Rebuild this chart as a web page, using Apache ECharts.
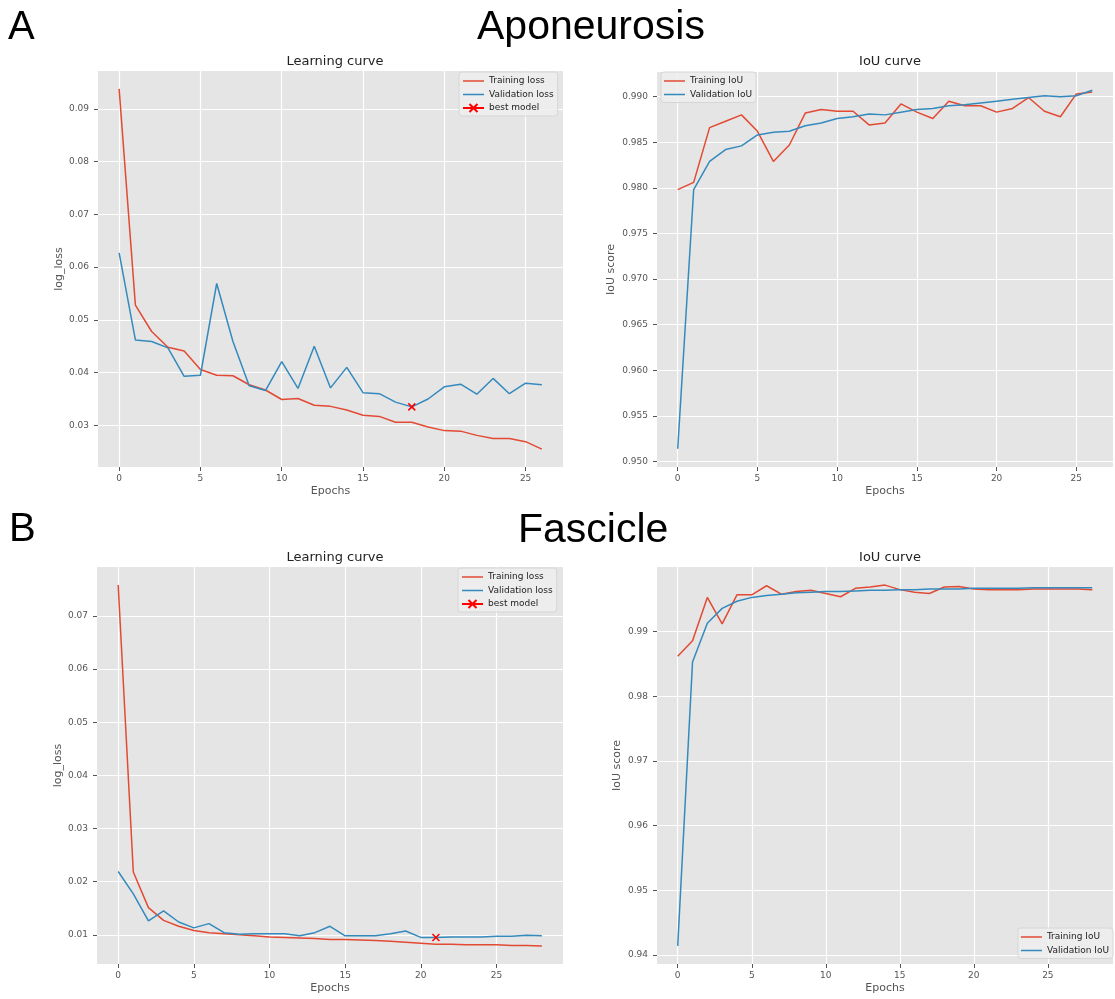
<!DOCTYPE html>
<html><head><meta charset="utf-8">
<script src="https://cdn.jsdelivr.net/npm/echarts@6/dist/echarts.min.js"></script>
<style>html,body{margin:0;padding:0;background:#fff}#c{width:1115px;height:999px}</style>
</head><body><div id="c"></div>
<script>
// ---- data ----
const epochsA = [0,1,2,3,4,5,6,7,8,9,10,11,12,13,14,15,16,17,18,19,20,21,22,23,24,25,26];
const epochsB = [0,1,2,3,4,5,6,7,8,9,10,11,12,13,14,15,16,17,18,19,20,21,22,23,24,25,26,27,28];

const aTrainLoss = [0.0938,0.0528,0.0478,0.0448,0.0441,0.0406,0.0395,0.0394,0.0377,0.0367,0.0349,0.0351,0.0338,0.0336,0.0329,0.0319,0.0317,0.0306,0.0306,0.0297,0.0290,0.0289,0.0281,0.0275,0.0275,0.0269,0.0255];
const aValLoss   = [0.0627,0.0462,0.0459,0.0447,0.0393,0.0395,0.0569,0.0459,0.0375,0.0366,0.0421,0.0370,0.0450,0.0371,0.0410,0.0362,0.0360,0.0344,0.0335,0.0350,0.0373,0.0378,0.0359,0.0389,0.0360,0.0380,0.0377];
const aBestModel = [18, 0.0335];

const aTrainIoU = [0.9798,0.9806,0.9866,0.9873,0.9880,0.9862,0.9829,0.9847,0.9882,0.9886,0.9884,0.9884,0.9869,0.9871,0.9892,0.9883,0.9876,0.9895,0.9890,0.9890,0.9883,0.9887,0.9899,0.9884,0.9878,0.9903,0.9905];
const aValIoU   = [0.9514,0.9798,0.9829,0.9842,0.9846,0.9858,0.9861,0.9862,0.9868,0.9871,0.9876,0.9878,0.9881,0.9880,0.9883,0.9886,0.9887,0.9890,0.9891,0.9893,0.9895,0.9897,0.9899,0.9901,0.9900,0.9901,0.9907];

const bTrainLoss = [0.0758,0.0218,0.0151,0.0127,0.0116,0.0108,0.0104,0.0102,0.0100,0.0098,0.0096,0.0095,0.0094,0.0093,0.0091,0.0091,0.0090,0.0089,0.0088,0.0086,0.0084,0.0082,0.0082,0.0081,0.0081,0.0081,0.0080,0.0080,0.0079];
const bValLoss   = [0.0219,0.0177,0.0126,0.0145,0.0124,0.0113,0.0121,0.0104,0.0101,0.0102,0.0102,0.0102,0.0098,0.0104,0.0116,0.0098,0.0098,0.0098,0.0102,0.0107,0.0095,0.0095,0.0096,0.0096,0.0096,0.0097,0.0097,0.0099,0.0098];
const bBestModel = [21, 0.0095];

const bTrainIoU = [0.9862,0.9886,0.9953,0.9912,0.9957,0.9957,0.9971,0.9958,0.9962,0.9964,0.9959,0.9954,0.9967,0.9969,0.9972,0.9965,0.9961,0.9959,0.9969,0.9970,0.9966,0.9965,0.9965,0.9965,0.9966,0.9966,0.9966,0.9966,0.9965];
const bValIoU   = [0.9414,0.9853,0.9913,0.9936,0.9947,0.9953,0.9956,0.9958,0.9960,0.9961,0.9962,0.9962,0.9963,0.9964,0.9964,0.9965,0.9965,0.9966,0.9966,0.9966,0.9967,0.9967,0.9967,0.9967,0.9968,0.9968,0.9968,0.9968,0.9968];

const xTicks = [0,5,10,15,20,25];
const yTicksALoss = [0.03,0.04,0.05,0.06,0.07,0.08,0.09];
const yTicksAIoU = [0.950,0.955,0.960,0.965,0.970,0.975,0.980,0.985,0.990];
const yTicksBLoss = [0.01,0.02,0.03,0.04,0.05,0.06,0.07];
const yTicksBIoU = [0.94,0.95,0.96,0.97,0.98,0.99];

// ---- styling ----
const RED = '#E24A33', BLUE = '#348ABD';
const FONT = 'DejaVu Sans';
const zip = (xs, ys) => xs.map((x, i) => [x, ys[i]]);

function axis(kind, idx, min, max, ticks, digits, name, gap) {
  return {
    type: 'value', gridIndex: idx, min: min, max: max,
    position: kind === 'y' ? 'left' : 'bottom',
    name: name, nameLocation: 'middle', nameGap: gap,
    nameRotate: kind === 'y' ? 90 : 0,
    nameTextStyle: {fontFamily: FONT, fontSize: 11, color: '#555'},
    axisLine: {show: false, onZero: false},
    axisTick: {show: true, length: 4, inside: false, customValues: ticks, lineStyle: {color: '#555', width: 1}},
    axisLabel: {customValues: ticks, fontFamily: FONT, fontSize: 9, color: '#555',
      margin: kind === 'y' ? 9 : 7,
      formatter: v => digits === null ? String(Math.round(v)) : v.toFixed(digits)},
    splitLine: {show: true, lineStyle: {color: '#FFFFFF', width: 1.2}}
  };
}

function line(name, data, color, xi) {
  return {type: 'line', name: name, data: data, xAxisIndex: xi, yAxisIndex: xi,
    symbol: 'none', showSymbol: false, lineStyle: {color: color, width: 1.5},
    itemStyle: {color: color}, z: 3, animation: false};
}
const XPATH = 'path://M0,0L10,10M10,0L0,10';
function best(data, xi) {
  return {type: 'line', name: 'best model', data: [data], xAxisIndex: xi, yAxisIndex: xi,
    symbol: XPATH, symbolSize: 7, showSymbol: true,
    lineStyle: {color: '#FF0000', width: 1.5},
    itemStyle: {color: 'rgba(0,0,0,0)', borderColor: '#FF0000', borderWidth: 1.5}, z: 4, animation: false};
}

const LINE_ICON = 'path://M0,0h28v2h-28z';
function legend(names, pos) {
  return Object.assign({
    orient: 'vertical',
    data: names.map(n => n === 'best model' ? {name: n} : {name: n, icon: LINE_ICON}),
    itemWidth: 21, itemHeight: 10, itemGap: 3.5, symbolKeepAspect: true,
    padding: [4, 4, 3, 3],
    backgroundColor: 'rgba(238,238,238,0.85)', borderColor: '#d6d6d6', borderWidth: 1, borderRadius: 3,
    textStyle: {fontFamily: FONT, fontSize: 9, color: '#222', lineHeight: 10},
    selectedMode: false
  }, pos);
}

const chart = echarts.init(document.getElementById('c'), null, {renderer: 'canvas'});
const gridStyle = {show: true, backgroundColor: '#E5E5E5', borderWidth: 0, containLabel: false};
const titleStyle = {fontFamily: FONT, fontSize: 13, fontWeight: 'normal', color: '#222'};

chart.setOption({
  backgroundColor: '#FFFFFF',
  animation: false,
  title: [
    {text: 'Learning curve', left: 330, top: 50, textAlign: 'center', textStyle: titleStyle},
    {text: 'IoU curve', left: 885, top: 50, textAlign: 'center', textStyle: titleStyle},
    {text: 'Learning curve', left: 330, top: 546, textAlign: 'center', textStyle: titleStyle},
    {text: 'IoU curve', left: 885, top: 546, textAlign: 'center', textStyle: titleStyle}
  ],
  graphic: [
    {type: 'text', left: 8, top: 8, style: {text: 'A', font: '40px "Liberation Sans"', fill: '#000'}},
    {type: 'text', left: 477, top: 7, style: {text: 'Aponeurosis', font: '41px "Liberation Sans"', fill: '#000'}},
    {type: 'text', left: 9, top: 510, style: {text: 'B', font: '40px "Liberation Sans"', fill: '#000'}},
    {type: 'text', left: 518, top: 510, style: {text: 'Fascicle', font: '41px "Liberation Sans"', fill: '#000'}}
  ],
  grid: [
    Object.assign({left: 98, top: 71, width: 465, height: 396}, gridStyle),
    Object.assign({left: 657, top: 72, width: 456, height: 395}, gridStyle),
    Object.assign({left: 97, top: 567, width: 466, height: 397}, gridStyle),
    Object.assign({left: 657, top: 567, width: 456, height: 397}, gridStyle)
  ],
  xAxis: [
    axis('x', 0, -1.3, 27.3, xTicks, null, 'Epochs', 19),
    axis('x', 1, -1.3, 27.3, xTicks, null, 'Epochs', 19),
    axis('x', 2, -1.4, 29.4, xTicks, null, 'Epochs', 19),
    axis('x', 3, -1.4, 29.4, xTicks, null, 'Epochs', 19)
  ],
  yAxis: [
    axis('y', 0, 0.0221, 0.0972, yTicksALoss, 2, 'log_loss', 32),
    axis('y', 1, 0.9494, 0.9927, yTicksAIoU, 3, 'IoU score', 40),
    axis('y', 2, 0.0045, 0.0792, yTicksBLoss, 2, 'log_loss', 32),
    axis('y', 3, 0.9386, 1.0000, yTicksBIoU, 2, 'IoU score', 34)
  ],
  legend: [
    legend(['Training loss', 'Validation loss', 'best model'], {left: 459, top: 72}),
    legend(['Training IoU', 'Validation IoU'], {left: 661, top: 72}),
    legend(['Training loss', 'Validation loss', 'best model'], {left: 458, top: 568}),
    legend(['Training IoU', 'Validation IoU'], {right: 2, top: 928})
  ],
  series: [
    line('Training loss', zip(epochsA, aTrainLoss), RED, 0),
    line('Validation loss', zip(epochsA, aValLoss), BLUE, 0),
    best(aBestModel, 0),
    line('Training IoU', zip(epochsA, aTrainIoU), RED, 1),
    line('Validation IoU', zip(epochsA, aValIoU), BLUE, 1),
    line('Training loss', zip(epochsB, bTrainLoss), RED, 2),
    line('Validation loss', zip(epochsB, bValLoss), BLUE, 2),
    best(bBestModel, 2),
    line('Training IoU', zip(epochsB, bTrainIoU), RED, 3),
    line('Validation IoU', zip(epochsB, bValIoU), BLUE, 3)
  ]
});
</script></body></html>
